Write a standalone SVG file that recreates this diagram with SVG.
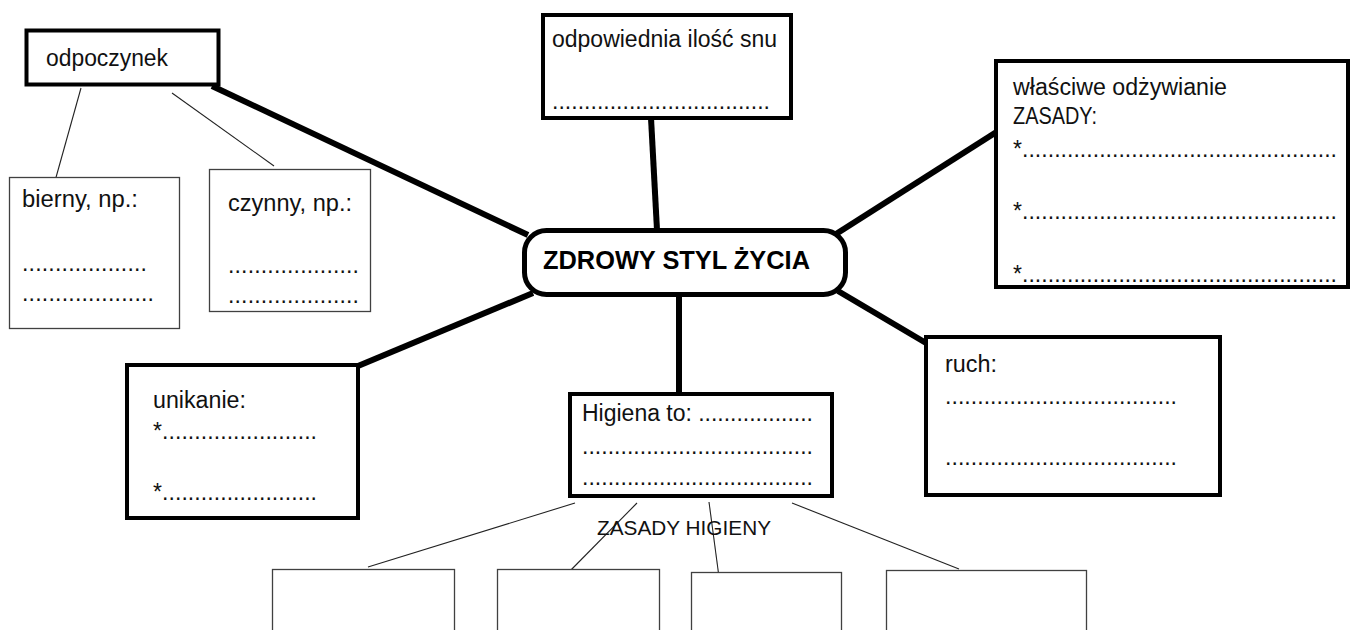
<svg xmlns="http://www.w3.org/2000/svg" width="1351" height="630" viewBox="0 0 1351 630">
<style>
.bg{fill:#fff}
.thick{fill:#fff;stroke:#000;stroke-width:4}
.thin{fill:#fff;stroke:#404040;stroke-width:1.3}
.t{font-family:"Liberation Sans",Arial,sans-serif;font-size:23px;fill:#111}
.s{font-size:21px}
.b{font-family:"Liberation Sans",Arial,sans-serif;font-size:25px;font-weight:bold;fill:#000}
.c{stroke:#000;stroke-width:6;stroke-linecap:butt;fill:none}
.l{stroke:#222;stroke-width:1.1;fill:none}
</style>
<rect class="bg" x="0" y="0" width="1351" height="630"/>
<g id="connectors">
<line class="c" x1="212" y1="86" x2="528" y2="235"/>
<line class="c" x1="651" y1="118" x2="657" y2="230"/>
<line class="c" x1="836" y1="234" x2="998" y2="131"/>
<line class="c" x1="838" y1="291" x2="926" y2="343"/>
<line class="c" x1="533" y1="293" x2="358" y2="366"/>
<line class="c" x1="679" y1="296" x2="679" y2="393"/>
<line class="l" x1="81" y1="88" x2="55" y2="181"/>
<line class="l" x1="172" y1="93" x2="274" y2="166"/>
<line class="l" x1="575" y1="503" x2="368" y2="567"/>
<line class="l" x1="637" y1="503" x2="567" y2="574"/>
<line class="l" x1="709" y1="502" x2="719" y2="577"/>
<line class="l" x1="792" y1="503" x2="959" y2="569"/>
</g>
<g id="center">
<rect x="524.5" y="230.5" width="321" height="64" rx="22" ry="22" fill="#fff" stroke="#000" stroke-width="5"/>
<text class="b" x="543" y="269" textLength="267" lengthAdjust="spacingAndGlyphs">ZDROWY STYL ŻYCIA</text>
</g>
<g id="odpoczynek">
<rect class="thick" x="26.5" y="30.5" width="192" height="54" stroke-width="5"/>
<text class="t" x="46" y="66" textLength="122" lengthAdjust="spacingAndGlyphs">odpoczynek</text>
</g>
<g id="bierny">
<rect class="thin" x="9.5" y="177.5" width="170" height="151"/>
<text class="t" x="22" y="207" textLength="116" lengthAdjust="spacingAndGlyphs">bierny, np.:</text>
<text class="t" x="22" y="271" textLength="125" lengthAdjust="spacing">...................</text>
<text class="t" x="22" y="301" textLength="132" lengthAdjust="spacing">....................</text>
</g>
<g id="czynny">
<rect class="thin" x="209.5" y="169.5" width="161" height="142"/>
<text class="t" x="228" y="211" textLength="124" lengthAdjust="spacingAndGlyphs">czynny, np.:</text>
<text class="t" x="228" y="273" textLength="131" lengthAdjust="spacing">....................</text>
<text class="t" x="228" y="303" textLength="131" lengthAdjust="spacing">....................</text>
</g>
<g id="sen">
<rect class="thick" x="543" y="15" width="248" height="103"/>
<text class="t" x="552" y="47" textLength="225" lengthAdjust="spacingAndGlyphs">odpowiednia ilość snu</text>
<text class="t" x="552" y="109" textLength="218" lengthAdjust="spacing">..................................</text>
</g>
<g id="odzywianie">
<rect class="thick" x="996" y="61" width="352" height="226"/>
<text class="t" x="1013" y="95" textLength="214" lengthAdjust="spacingAndGlyphs">właściwe odżywianie</text>
<text class="t" x="1013" y="124" textLength="84" lengthAdjust="spacingAndGlyphs">ZASADY:</text>
<text class="t" x="1013" y="157" textLength="324" lengthAdjust="spacing">*.................................................</text>
<text class="t" x="1013" y="219" textLength="324" lengthAdjust="spacing">*.................................................</text>
<text class="t" x="1013" y="282" textLength="324" lengthAdjust="spacing">*.................................................</text>
</g>
<g id="unikanie">
<rect class="thick" x="127" y="365" width="231" height="153"/>
<text class="t" x="153" y="408" textLength="93" lengthAdjust="spacingAndGlyphs">unikanie:</text>
<text class="t" x="153" y="439" textLength="164" lengthAdjust="spacing">*........................</text>
<text class="t" x="153" y="500" textLength="164" lengthAdjust="spacing">*........................</text>
</g>
<g id="ruch">
<rect class="thick" x="926" y="337" width="294" height="158"/>
<text class="t" x="945" y="372" textLength="52" lengthAdjust="spacingAndGlyphs">ruch:</text>
<text class="t" x="945" y="404" textLength="232" lengthAdjust="spacing">....................................</text>
<text class="t" x="945" y="465" textLength="232" lengthAdjust="spacing">....................................</text>
</g>
<g id="higiena">
<rect class="thick" x="570" y="394" width="262" height="102"/>
<text class="t" x="582" y="421" textLength="231" lengthAdjust="spacing">Higiena to: ..................</text>
<text class="t" x="582" y="454" textLength="231" lengthAdjust="spacing">....................................</text>
<text class="t" x="582" y="485" textLength="231" lengthAdjust="spacing">....................................</text>
</g>
<g id="zasady-higieny">
<text class="t s" x="597" y="535" textLength="174" lengthAdjust="spacingAndGlyphs">ZASADY HIGIENY</text>
</g>
<g id="zasada1"><rect class="thin" x="272.5" y="569.5" width="182" height="80"/></g>
<g id="zasada2"><rect class="thin" x="497.5" y="569.5" width="162" height="80"/></g>
<g id="zasada3"><rect class="thin" x="691.5" y="572.5" width="150" height="80"/></g>
<g id="zasada4"><rect class="thin" x="886.5" y="570.5" width="200" height="80"/></g>
</svg>
